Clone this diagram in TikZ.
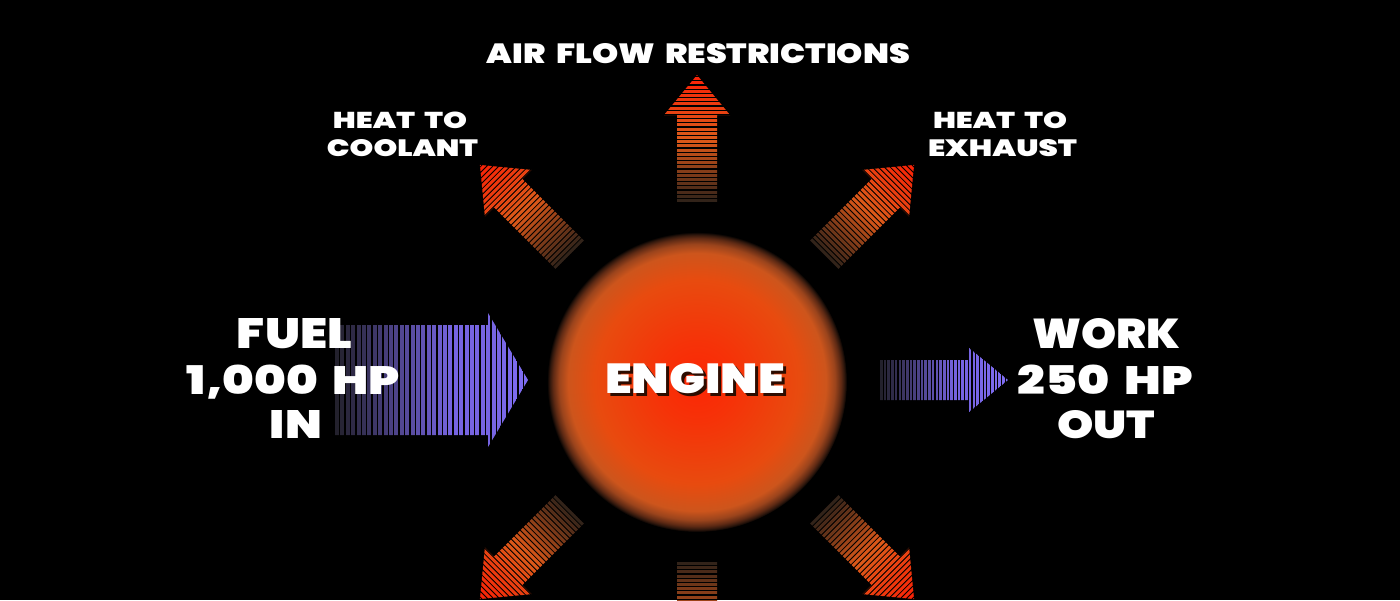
\documentclass[tikz,border=0pt]{standalone}
\usepackage{fontspec}
\usepackage{graphicx}
\newfontfamily\hfont{Poppins Black}[WordSpace=1.8]
\definecolor{arA}{RGB}{50,35,25}
\definecolor{arB}{RGB}{220,88,25}
\definecolor{arC}{RGB}{252,30,5}
\definecolor{blA}{RGB}{35,33,45}
\definecolor{blB}{RGB}{118,100,225}
\definecolor{blC}{RGB}{128,110,245}
\definecolor{e0}{RGB}{252,38,5}
\definecolor{e1}{RGB}{246,50,8}
\definecolor{e2}{RGB}{232,75,15}
\definecolor{e3}{RGB}{205,85,28}
\definecolor{e4}{RGB}{155,68,28}
\definecolor{e5}{RGB}{95,42,20}
\definecolor{e6}{RGB}{45,22,12}
\definecolor{engshadow}{RGB}{45,12,0}
\pgfdeclareradialshading{engine}{\pgfpointorigin}{color(0bp)=(e0); color(6.5bp)=(e1); color(17bp)=(e2); color(21.5bp)=(e3); color(23bp)=(e4); color(24bp)=(e5); color(24.6bp)=(e6); color(25bp)=(black); color(50bp)=(black)}
\tikzset{txt/.style={inner sep=0pt, outer sep=0pt, anchor=base, text=white}}
\newcommand{\lbl}[6]{%
  \node[txt] (#1) at (#2,#3) {\resizebox{#4pt}{#5pt}{\hfont #6}};
}
\newcommand{\redarrow}[1]{%
  \begin{scope}[shift={(697,382)},rotate=#1]
    \begin{scope}
      \clip (180,-20) -- (267,-20) -- (267,-33) -- (307,0) -- (267,33) -- (267,20) -- (180,20) -- cycle;
      \foreach \i in {0,...,30}{
        \pgfmathsetmacro\t{180+\i*4.2}
        \pgfmathsetmacro\p{min(100,max(0,(\t-180)/60*100))}
        \pgfmathsetmacro\q{min(100,max(0,(\t-245)/62*100))}
        \fill[color=arC!\q!arB!\p!arA] (\t,-40) rectangle ++(3.0,80);
      }
    \end{scope}
  \end{scope}}
\begin{document}
\begin{tikzpicture}[x=1pt,y=-1pt]
\useasboundingbox (0,0) rectangle (1400,600);
\fill[black] (0,0) rectangle (1400,600);
\clip (0,0) rectangle (1400,600);
% engine
\shade[shading=engine] (697,382) circle (150);
% red arrows
\redarrow{90}
\redarrow{135}
\redarrow{45}
\redarrow{225}
\redarrow{270}
\redarrow{315}
% fuel arrow
\begin{scope}
  \clip (335,325) -- (488,325) -- (488,313) -- (528,380) -- (488,447) -- (488,435) -- (335,435) -- cycle;
  \foreach \i in {0,...,36}{
    \pgfmathsetmacro\t{335+\i*5.4}
    \pgfmathsetmacro\p{min(100,max(0,(\t-335)/115*100))}
    \pgfmathsetmacro\q{min(100,max(0,(\t-488)/40*100))}
    \fill[color=blC!\q!blB!\p!blA] (\t,300) rectangle ++(3.9,160);
  }
\end{scope}
% work arrow
\begin{scope}
  \clip (880,360) -- (968,360) -- (968,347) -- (1008,380) -- (968,413) -- (968,400) -- (880,400) -- cycle;
  \foreach \i in {0,...,34}{
    \pgfmathsetmacro\t{880+\i*3.7}
    \pgfmathsetmacro\p{min(100,max(0,(\t-880)/75*100))}
    \pgfmathsetmacro\q{min(100,max(0,(\t-968)/40*100))}
    \fill[color=blC!\q!blB!\p!blA] (\t,340) rectangle ++(2.6,80);
  }
\end{scope}
% labels
\lbl{air}{698.5}{63}{423}{20}{AIR FLOW RESTRICTIONS}
\lbl{hc1}{400}{128}{134}{16.5}{HEAT TO}
\lbl{hc2}{402.5}{156}{151}{17}{COOLANT}
\lbl{he1}{1000}{128}{134}{16.5}{HEAT TO}
\lbl{he2}{1002.5}{156}{149}{17}{EXHAUST}
\lbl{fu1}{294.5}{348}{115}{30}{FUEL}
\lbl{fu2}{293.5}{394}{213}{29.5}{1,000 HP}
\lbl{fu3}{296}{438}{52}{28}{IN}
\lbl{wo1}{1106}{348}{148}{30}{WORK}
\lbl{wo2}{1105.5}{394}{175}{29.5}{250 HP}
\lbl{wo3}{1106}{438}{98}{28}{OUT}
\node[txt,text=engshadow] (engs) at (698,396) {\resizebox{180pt}{30pt}{\hfont ENGINE}};
\lbl{eng}{695}{393}{180}{30}{ENGINE}
\end{tikzpicture}
\end{document}
